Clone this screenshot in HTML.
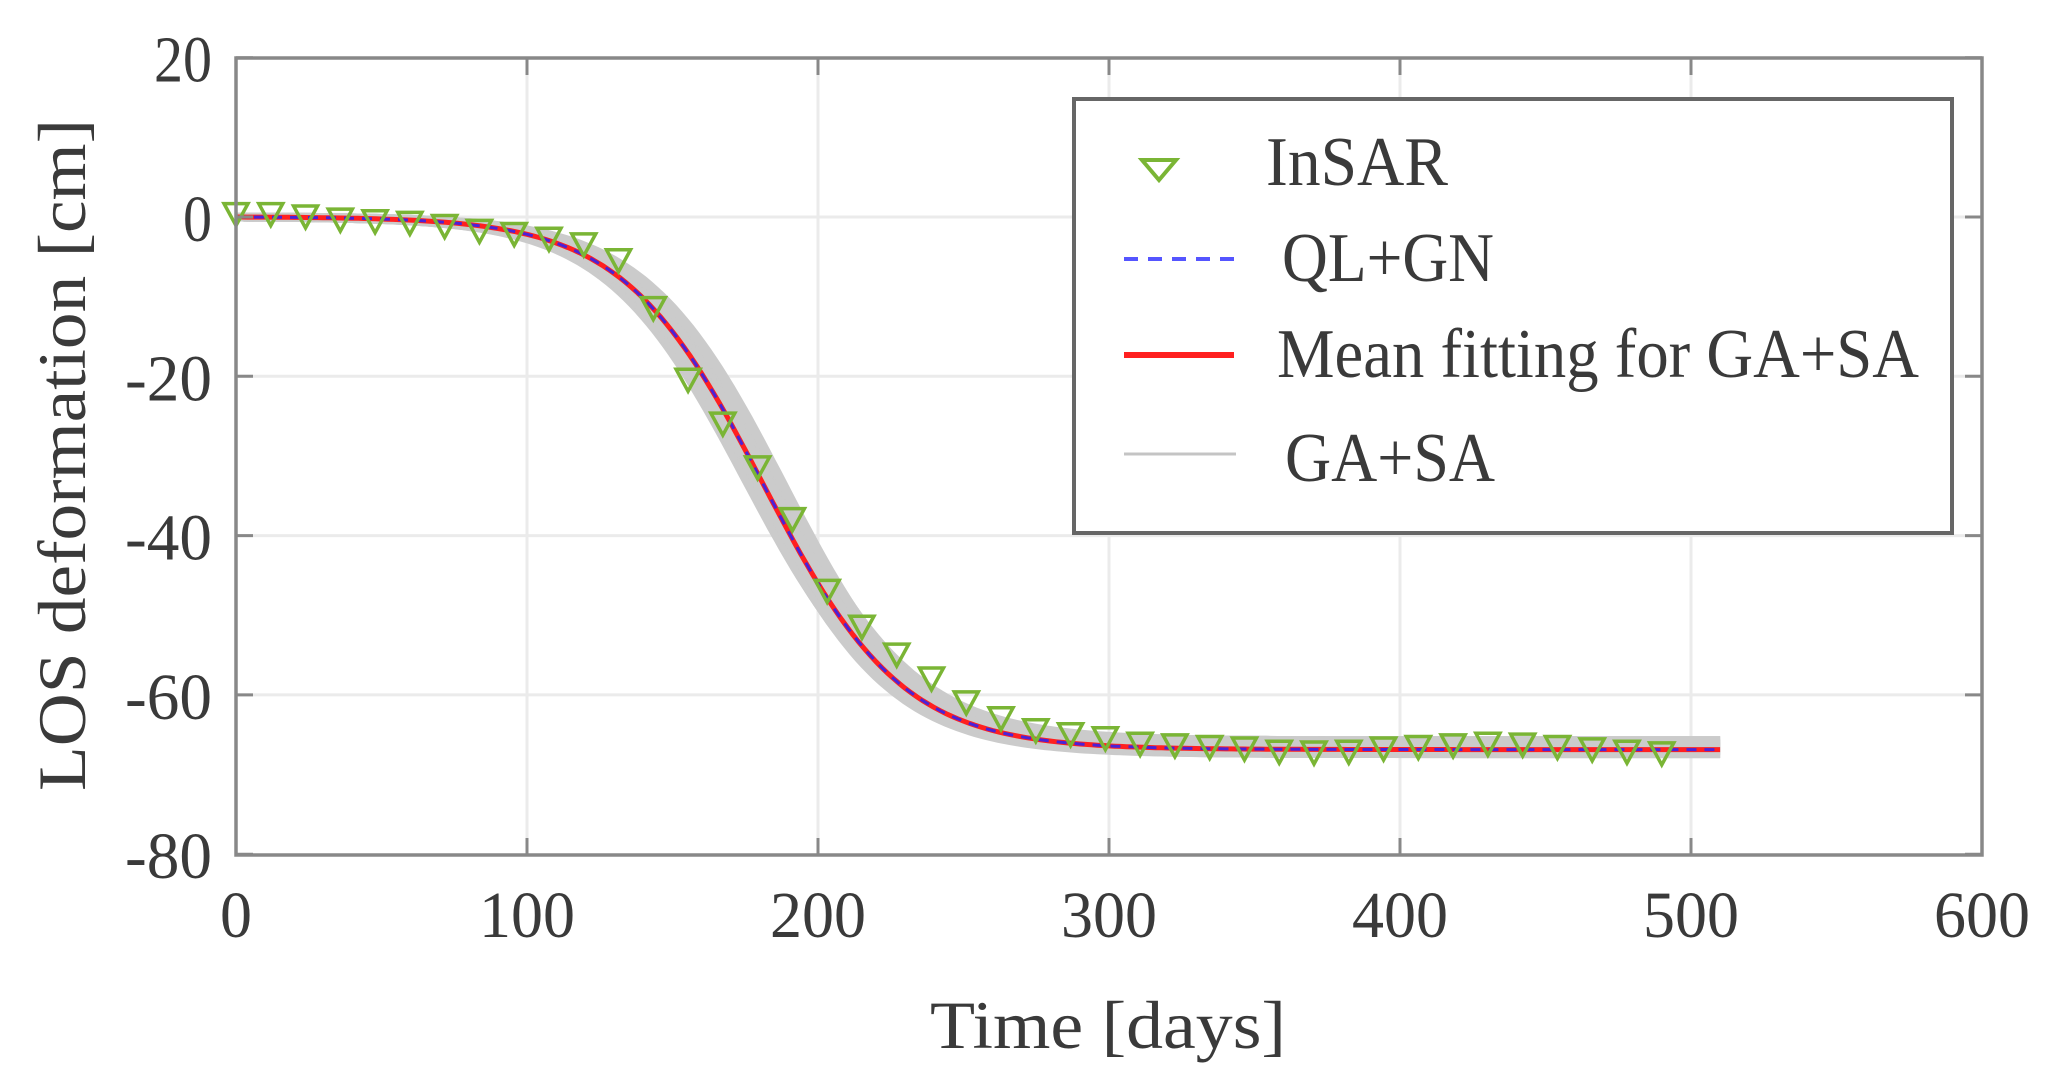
<!DOCTYPE html>
<html><head><meta charset="utf-8"><style>
html,body{margin:0;padding:0;background:#fff;width:2058px;height:1091px;overflow:hidden}
svg text{font-family:"Liberation Serif",serif;fill:#3a3a3a}
</style></head><body>
<svg id="s" width="2058" height="1091" viewBox="0 0 2058 1091" xmlns="http://www.w3.org/2000/svg">
<rect width="2058" height="1091" fill="#fff"/>
<g id="grid" stroke="#ebebeb" stroke-width="3"></g>
<g id="band"></g>
<g id="lines"></g>
<g id="marks" fill="none" stroke="#7ab535" stroke-width="3.5"></g>
<rect x="236" y="58" width="1746" height="797" fill="none" stroke="#888" stroke-width="3.5"/>
<g id="ticks" stroke="#888" stroke-width="3"></g>
<g id="labels" font-size="66"></g>
<text x="930" y="1048" font-size="68" textLength="356" lengthAdjust="spacingAndGlyphs">Time [days]</text>
<text transform="translate(85,791) rotate(-90)" font-size="68" textLength="672" lengthAdjust="spacingAndGlyphs">LOS deformation [cm]</text>
<rect x="1074" y="99" width="878" height="434" fill="#fff" stroke="#666" stroke-width="4"/>
<path d="M1142,160 L1176,160 L1159,180 Z" fill="none" stroke="#7ab535" stroke-width="4"/>
<text x="1266" y="185" font-size="70" textLength="182" lengthAdjust="spacingAndGlyphs">InSAR</text>
<line x1="1124" y1="259" x2="1236" y2="259" stroke="#5555ff" stroke-width="4" stroke-dasharray="14,10"/>
<text x="1282" y="281" font-size="70" textLength="212" lengthAdjust="spacingAndGlyphs">QL+GN</text>
<line x1="1124" y1="355" x2="1234" y2="355" stroke="#ff2020" stroke-width="6"/>
<text x="1277" y="377" font-size="70" textLength="642" lengthAdjust="spacingAndGlyphs">Mean fitting for GA+SA</text>
<line x1="1124" y1="454" x2="1236" y2="454" stroke="#c4c4c4" stroke-width="3"/>
<text x="1285" y="481" font-size="70" textLength="210" lengthAdjust="spacingAndGlyphs">GA+SA</text>
</svg>
<script>
var NS="http://www.w3.org/2000/svg";
function X(t){return 236+t*1746/600}
function Y(v){return 217-v*159.3/20}
function el(p,n,a,txt){var e=document.createElementNS(NS,n);for(var k in a)e.setAttribute(k,a[k]);if(txt!==undefined)e.textContent=txt;document.getElementById(p).appendChild(e);return e}
for(var i=1;i<6;i++)el("grid","line",{x1:X(i*100),y1:58,x2:X(i*100),y2:855});
for(var v=0;v>=-60;v-=20)el("grid","line",{x1:236,y1:Y(v),x2:1982,y2:Y(v)});
for(var i=0;i<=6;i++){el("ticks","line",{x1:X(i*100),y1:855,x2:X(i*100),y2:838});el("ticks","line",{x1:X(i*100),y1:58,x2:X(i*100),y2:75});
 var s=String(i*100);el("labels","text",{x:X(i*100),y:937,"text-anchor":"middle",textLength:s.length*32,lengthAdjust:"spacingAndGlyphs"},s);}
for(var v=20;v>=-80;v-=20){el("ticks","line",{x1:236,y1:Y(v),x2:253,y2:Y(v)});el("ticks","line",{x1:1982,y1:Y(v),x2:1965,y2:Y(v)});
 var s=String(v);el("labels","text",{x:212,y:Y(v)+24,"text-anchor":"end",textLength:s.length*29,lengthAdjust:"spacingAndGlyphs"},s);}
var K=24;
function f(t,c,k,A){return -A/(1+Math.exp(-(t-c)/k))+A/(1+Math.exp(c/k))}
function path(c,k,A){var d="";for(var t=0;t<=510;t+=2){d+=(t?"L":"M")+X(t).toFixed(1)+","+Y(f(t,c,k,A)).toFixed(1)}return d}
for(var j=0;j<25;j++){var c=175+j*0.55,A=65.8+(j%5)*0.4;el("band","path",{d:path(c,K,A),fill:"none",stroke:"#cbcbcb","stroke-width":9})}
el("lines","path",{d:path(181,K,66.9),fill:"none",stroke:"#ff2020","stroke-width":5});
el("lines","path",{d:path(181,K,66.9),fill:"none",stroke:"#4a22d8","stroke-width":3,"stroke-dasharray":"10,8"});
var vals=[0.3,0.3,0,-0.4,-0.6,-0.8,-1.2,-1.8,-2.2,-2.8,-3.5,-5.5,-11.5,-20.5,-26,-31.5,-38,-47,-51.5,-55,-58,-61,-63,-64.5,-65,-65.5,-66.2,-66.4,-66.6,-66.8,-67.2,-67.3,-67.2,-66.8,-66.6,-66.4,-66.2,-66.3,-66.6,-66.9,-67.2,-67.4];
for(var i=0;i<vals.length;i++){var t=i*11.95;var v=vals[i];
 var x=X(t),y=Y(v);el("marks","path",{d:"M"+(x-12)+","+(y-11)+" L"+(x+12)+","+(y-11)+" L"+x+","+(y+11)+" Z"})}
</script>
</body></html>
